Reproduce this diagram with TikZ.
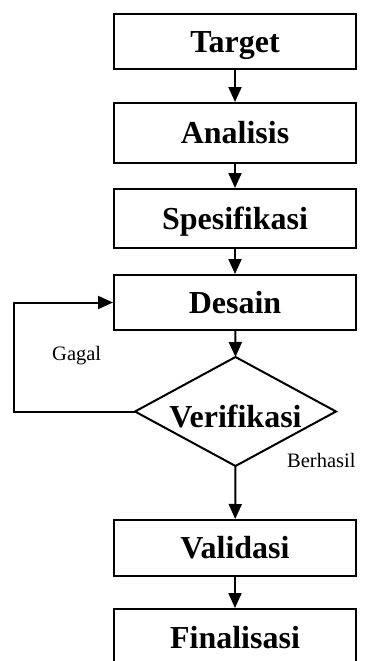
\documentclass[tikz,border=0pt]{standalone}
\usepackage{fontspec}
\setmainfont{Liberation Serif}
\usetikzlibrary{arrows.meta}
\begin{document}
\begin{tikzpicture}[x=1pt,y=-1pt,
  stepbox/.style={draw,line width=2pt,minimum width=242pt,inner sep=0pt,
    text height=21.5pt,text depth=0pt,
    font=\fontsize{32}{38}\selectfont\bfseries},
  arr/.style={line width=2pt,-{Triangle[width=13pt,length=15pt]}},
  plain/.style={line width=2pt},
  lbl/.style={font=\fontsize{20.5}{24}\selectfont,inner sep=0pt,anchor=base west}]
\clip (0,0) rectangle (369,661);
\node[stepbox,minimum height=55pt] (t) at (235,41.5) {Target};
\node[stepbox,minimum height=60pt] (a) at (235,133) {Analisis};
\node[stepbox,minimum height=59pt] (s) at (235,218.5) {Spesifikasi};
\node[stepbox,minimum height=55pt] (d) at (235,302.5) {Desain};
\node[stepbox,minimum height=56pt] (v) at (235,548) {Validasi};
\node[stepbox,minimum height=57pt] (f) at (235,637.5) {Finalisasi};
% decision
\coordinate (vt) at (235.5,357);
\coordinate (vb) at (235.5,466);
\coordinate (vl) at (135,411.5);
\coordinate (vr) at (336,411.5);
\draw[plain,line join=miter] (vl) -- (vt) -- (vr) -- (vb) -- cycle;
\node[inner sep=0pt,anchor=base,font=\fontsize{32}{38}\selectfont\bfseries] (ver) at (235.5,427) {Verifikasi};
\coordinate (lc) at (14,411.5);
\coordinate (uc) at (14,302.5);
% connectors
\draw[arr] (t) -- (a);
\draw[arr] (a) -- (s);
\draw[arr] (s) -- (d);
\draw[arr] (d) -- (vt);
\draw[arr] (vb) -- (v);
\draw[arr] (v) -- (f);
\draw[arr] (vl) -- (lc) -- (uc) -- (d.west);
% labels
\node[lbl] (gagal) at (52,360) {Gagal};
\node[lbl] (berhasil) at (287,467) {Berhasil};
\end{tikzpicture}
\end{document}
